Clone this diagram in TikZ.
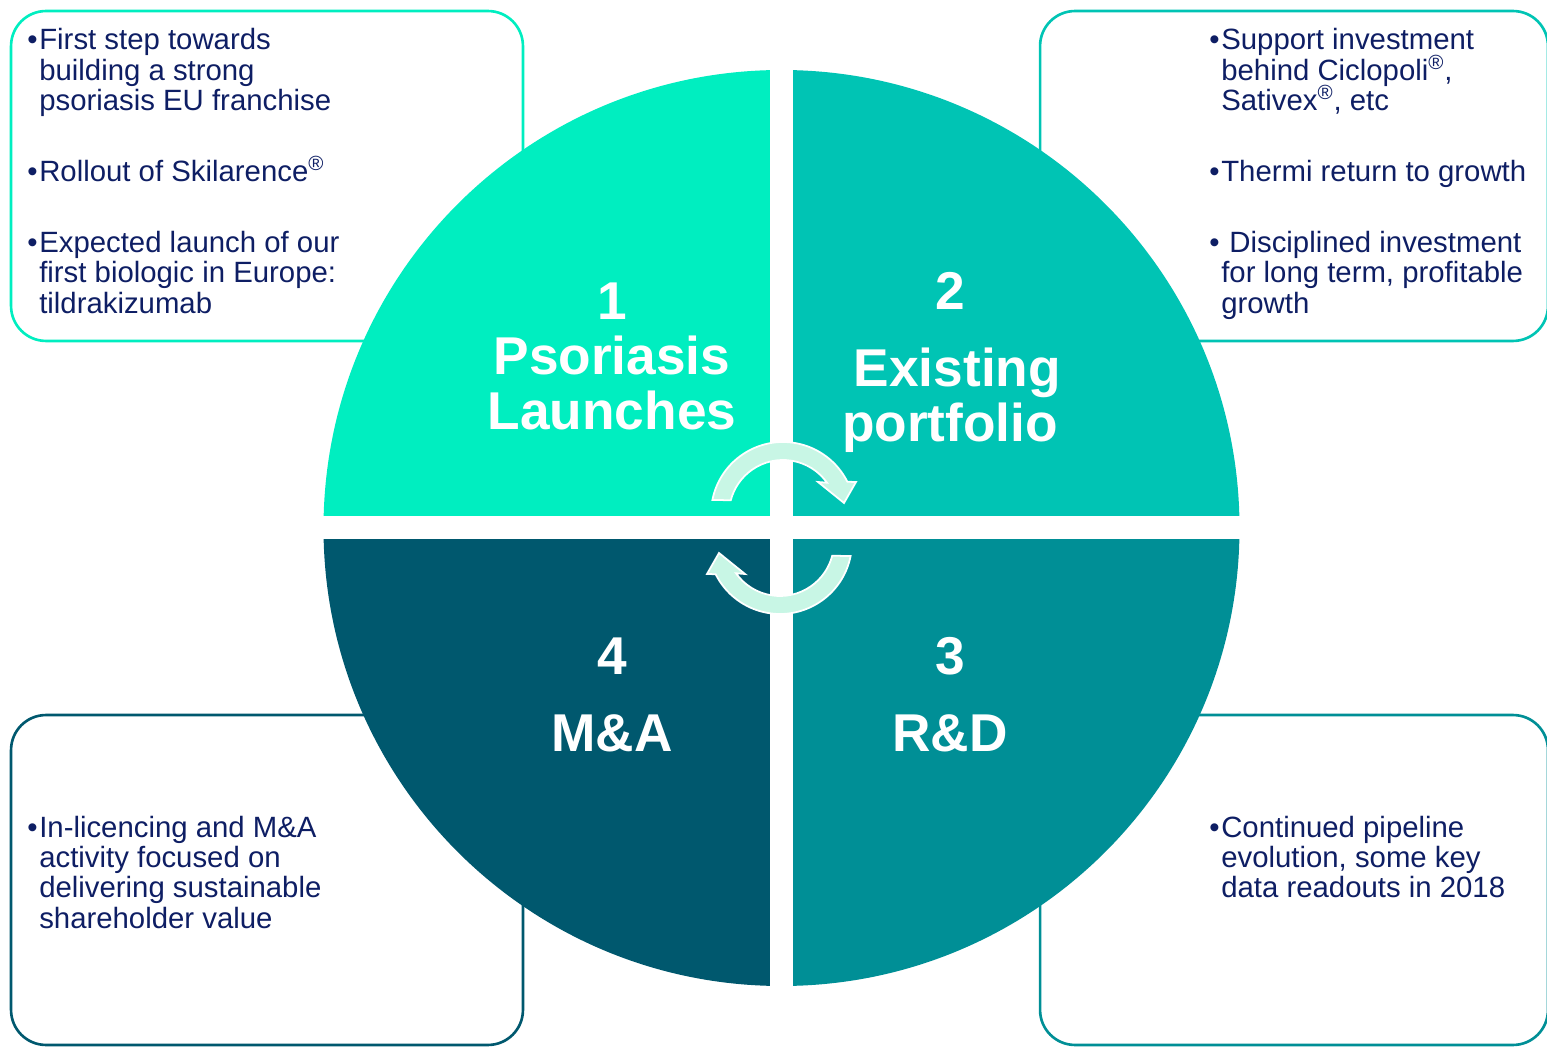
\documentclass[tikz,border=0pt]{standalone}
\usepackage{fontspec}
\setmainfont{Liberation Sans}
\usetikzlibrary{calc}
\definecolor{qone}{RGB}{0,238,192}
\definecolor{qtwo}{RGB}{0,196,180}
\definecolor{qthree}{RGB}{0,143,150}
\definecolor{qfour}{RGB}{0,88,110}
\definecolor{mint}{RGB}{200,246,229}
\definecolor{navy}{RGB}{14,30,100}
\newcommand{\bodyfont}{\fontsize{16.7}{17.3}\selectfont}
\newcommand{\quadfont}{\fontsize{30.3}{31.2}\selectfont\bfseries}
\newcommand{\bitem}[1]{\hangindent=6.8pt\hangafter=1\noindent\makebox[6.8pt][l]{•}#1\par}
\newcommand{\bgap}{\vspace{23pt}}
\newcommand{\regd}{\smash{\textsuperscript{®}}}
\begin{document}
\begin{tikzpicture}[
x=0.02cm,
y=0.02cm,
infobox/.style={
  rectangle,
  rounded corners=0.7cm,
  line width=1.5pt,
  minimum height=6.6cm,
  inner sep=0pt
  },
bullets/.style={
  anchor=base west,
  inner sep=0pt,
  text=navy,
  font=\bodyfont
  },
quad/.style={
  anchor=base,
  inner sep=0pt,
  text=white,
  font=\quadfont
  },
turn/.style={
  fill=mint,
  draw=white,
  line width=1pt
  },
turnarrow/.pic={
  \path[turn] (168.8:72) arc[start angle=168.8, end angle=26.6, radius=72]
    -- (73,32) -- (61,11) -- (35,32) -- (35.4:54)
    arc[start angle=35.4, end angle=165.2, radius=54] -- cycle;
  }
]
\useasboundingbox (0,0) rectangle (1547,1048);
\coordinate (ctr) at (781.5,520);
\node[infobox, draw=qone, minimum width=10.24cm] (tlbox) at (267,872) {};
\node[infobox, draw=qtwo, minimum width=10.16cm] (trbox) at (1294,872) {};
\node[infobox, draw=qfour, minimum width=10.24cm] (blbox) at (267,168) {};
\node[infobox, draw=qthree, minimum width=10.16cm] (brbox) at (1294,168) {};
\begin{scope}
\clip (ctr) circle[radius=458];
\fill[qone] ($(ctr)+(-460,11.5)$) rectangle ($(ctr)+(-11.5,460)$);
\fill[qtwo] ($(ctr)+(11.5,11.5)$) rectangle ($(ctr)+(460,460)$);
\fill[qthree] ($(ctr)+(11.5,-11.5)$) rectangle ($(ctr)+(460,-460)$);
\fill[qfour] ($(ctr)+(-460,-11.5)$) rectangle ($(ctr)+(-11.5,-460)$);
\end{scope}
\pic at ($(ctr)+(1.5,14)$) {turnarrow};
\pic[rotate=180] at ($(ctr)+(-1.5,-14)$) {turnarrow};
\node[quad] (lab1) at (612,728) {\parbox[t]{6cm}{\centering 1\\Psoriasis\\Launches}};
\node[quad] (lab2) at (950,738) {\parbox[t]{6cm}{\centering 2\\[12.5pt]\ Existing\\portfolio}};
\node[quad] (lab3) at (950,373) {\parbox[t]{6cm}{\centering 3\\[12.5pt]R\&D}};
\node[quad] (lab4) at (612,373) {\parbox[t]{6cm}{\centering 4\\[12.5pt]M\&A}};
\node[bullets] (tltext) at (27,998) {\parbox[t]{11cm}{%
\bitem{First step towards\\building a strong\\psoriasis EU franchise}\bgap
\bitem{Rollout of Skilarence\regd}\bgap
\bitem{Expected launch of our\\first biologic in Europe:\\tildrakizumab}}};
\node[bullets] (trtext) at (1209,998) {\parbox[t]{11cm}{%
\bitem{Support investment\\behind Ciclopoli\regd,\\Sativex\regd, etc}\bgap
\bitem{Thermi return to growth}\bgap
\bitem{\ Disciplined investment\\for long term, profitable\\growth}}};
\node[bullets] (bltext) at (27,211) {\parbox[t]{11cm}{%
\bitem{In-licencing and M\&A\\activity focused on\\delivering sustainable\\shareholder value}}};
\node[bullets] (brtext) at (1209,211) {\parbox[t]{11cm}{%
\bitem{Continued pipeline\\evolution, some key\\data readouts in 2018}}};
\end{tikzpicture}
\end{document}
